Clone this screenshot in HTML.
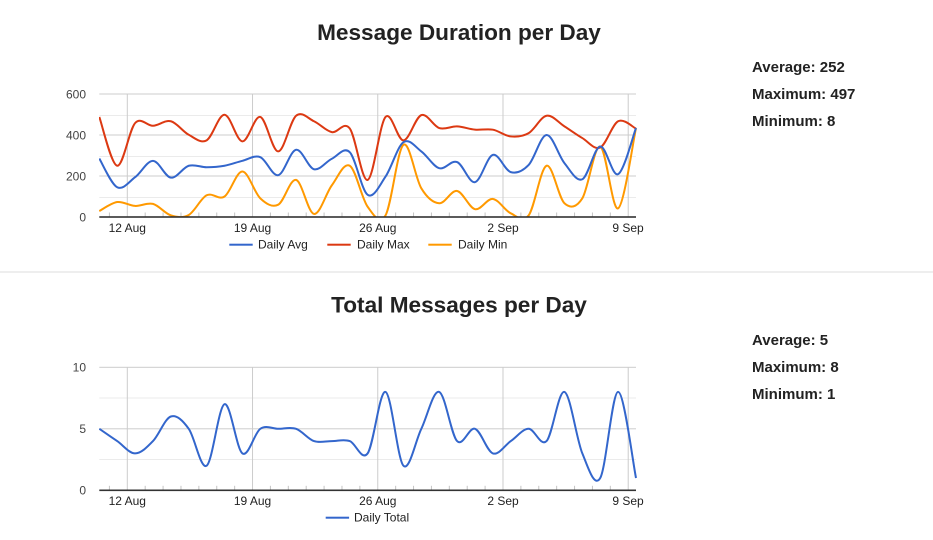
<!DOCTYPE html>
<html><head><meta charset="utf-8"><style>
html,body{margin:0;padding:0;background:#fff;width:933px;height:540px;overflow:hidden}
svg{display:block}
text{font-family:"Liberation Sans",Arial,sans-serif}
</style></head><body>
<svg id="s" width="933" height="540" viewBox="0 0 933 540" xmlns="http://www.w3.org/2000/svg">
<defs>
<clipPath id="c1"><rect x="99" y="88" width="538" height="129.5"/></clipPath>
<clipPath id="c2"><rect x="99" y="360" width="538" height="131"/></clipPath>
</defs>
<text x="459" y="40" text-anchor="middle" font-size="22.6" font-weight="bold" fill="#222">Message Duration per Day</text>
<text x="459" y="312.5" text-anchor="middle" font-size="22.6" font-weight="bold" fill="#222">Total Messages per Day</text>
<g font-size="15" font-weight="bold" fill="#222">
<text x="752" y="72">Average: 252</text>
<text x="752" y="99">Maximum: 497</text>
<text x="752" y="126">Minimum: 8</text>
<text x="752" y="345">Average: 5</text>
<text x="752" y="372">Maximum: 8</text>
<text x="752" y="399">Minimum: 1</text>
</g>
<rect x="0" y="271.5" width="933" height="1" fill="#dedede"/>
<g id="grid"></g>
<g font-size="12" fill="#444" text-anchor="end">
<text x="86" y="98.5">600</text>
<text x="86" y="139.5">400</text>
<text x="86" y="180.5">200</text>
<text x="86" y="221.5">0</text>
<text x="86" y="371.5">10</text>
<text x="86" y="433">5</text>
<text x="86" y="494.5">0</text>
</g>
<g font-size="12" fill="#222" text-anchor="middle">
<text x="127.3" y="232">12 Aug</text>
<text x="252.5" y="232">19 Aug</text>
<text x="377.8" y="232">26 Aug</text>
<text x="503" y="232">2 Sep</text>
<text x="628" y="232">9 Sep</text>
<text x="127.3" y="505">12 Aug</text>
<text x="252.5" y="505">19 Aug</text>
<text x="377.8" y="505">26 Aug</text>
<text x="503" y="505">2 Sep</text>
<text x="628" y="505">9 Sep</text>
</g>
<g font-size="12" fill="#222">
<rect x="229.3" y="243.7" width="23.4" height="2" fill="#3366cc"/>
<text x="258" y="248.7">Daily Avg</text>
<rect x="327.3" y="243.7" width="23.4" height="2" fill="#dc3912"/>
<text x="357" y="248.7">Daily Max</text>
<rect x="428.3" y="243.7" width="23.4" height="2" fill="#ff9900"/>
<text x="458" y="248.7">Daily Min</text>
<rect x="325.7" y="516.7" width="23.4" height="2" fill="#3366cc"/>
<text x="354" y="521.7">Daily Total</text>
</g>
<g clip-path="url(#c1)" fill="none" stroke-width="2" stroke-linejoin="round">
<path id="pmin" stroke="#ff9900"/>
<path id="pmax" stroke="#dc3912"/>
<path id="pavg" stroke="#3366cc"/>
</g>
<g clip-path="url(#c2)" fill="none" stroke-width="2" stroke-linejoin="round">
<path id="ptot" stroke="#3366cc"/>
</g>
<rect x="99.3" y="216.2" width="536.7" height="1.6" fill="#333"/>
<rect x="99.3" y="489.5" width="536.7" height="1.6" fill="#333"/>
</svg>
<script>
(function(){
var NS="http://www.w3.org/2000/svg";
var X0=99.3,DX=17.89,XR=636;
var g=document.getElementById("grid");
function r(x,y,w,h,c){var e=document.createElementNS(NS,"rect");e.setAttribute("x",x);e.setAttribute("y",y);e.setAttribute("width",w);e.setAttribute("height",h);e.setAttribute("fill",c);g.appendChild(e);}
function grid(top,bot,minorYs,majorYs){
  minorYs.forEach(function(y){r(X0,y-0.5,XR-X0,1,"#ebebeb");});
  majorYs.forEach(function(y){r(X0,y-0.5,XR-X0,1,"#cccccc");});
  for(var j=-1;j<=28;j++){var x=127.3+17.89*j; if(x<X0||x>XR)continue;
    if(j%7===0){r(x-0.5,top,1,bot-top,"#cccccc");}
    else{r(x-0.5,bot-4.5,1,4.5,"#c4c4c4");}
  }
}
grid(94,217,[115.5,156.5,197.5],[94,135,176]);
grid(367.3,490.3,[398,459.5],[367.3,428.8]);
function path(vals,yf){
  var p=vals.map(function(v,i){return [X0+DX*i,yf(v)];});
  var d="M"+p[0][0].toFixed(2)+","+p[0][1].toFixed(2);
  for(var i=0;i<p.length-1;i++){
    var a=p[i-1]||p[i],b=p[i],c=p[i+1],e=p[i+2]||p[i+1];
    var c1x=b[0]+(c[0]-a[0])/6,c1y=b[1]+(c[1]-a[1])/6;
    var c2x=c[0]-(e[0]-b[0])/6,c2y=c[1]-(e[1]-b[1])/6;
    d+=" C"+c1x.toFixed(2)+","+c1y.toFixed(2)+" "+c2x.toFixed(2)+","+c2y.toFixed(2)+" "+c[0].toFixed(2)+","+c[1].toFixed(2);
  }
  return d;
}
var yt=function(v){return 217-v*0.205;};
var yb=function(v){return 490.3-v*12.3;};
var avg=[285,145,194,274,192,250,243,250,274,292,204,328,233,284,316,108,197,365,320,238,268,170,303,219,254,400,263,184,344,209,434];
var max=[488,250,458,445,467,401,374,499,369,488,320,494,467,414,432,181,488,374,497,434,442,426,426,393,409,494,442,385,339,467,431];
var min=[29,73,54,64,8,10,106,100,222,91,60,181,15,155,250,50,8,352,140,67,127,38,88,18,8,250,67,91,344,42,434];
var tot=[5,4,3,4,6,5,2,7,3,5,5,5,4,4,4,3,8,2,5,8,4,5,3,4,5,4,8,3,1,8,1];
document.getElementById("pavg").setAttribute("d",path(avg,yt));
document.getElementById("pmax").setAttribute("d",path(max,yt));
document.getElementById("pmin").setAttribute("d",path(min,yt));
document.getElementById("ptot").setAttribute("d",path(tot,yb));
})();
</script>
</body></html>
